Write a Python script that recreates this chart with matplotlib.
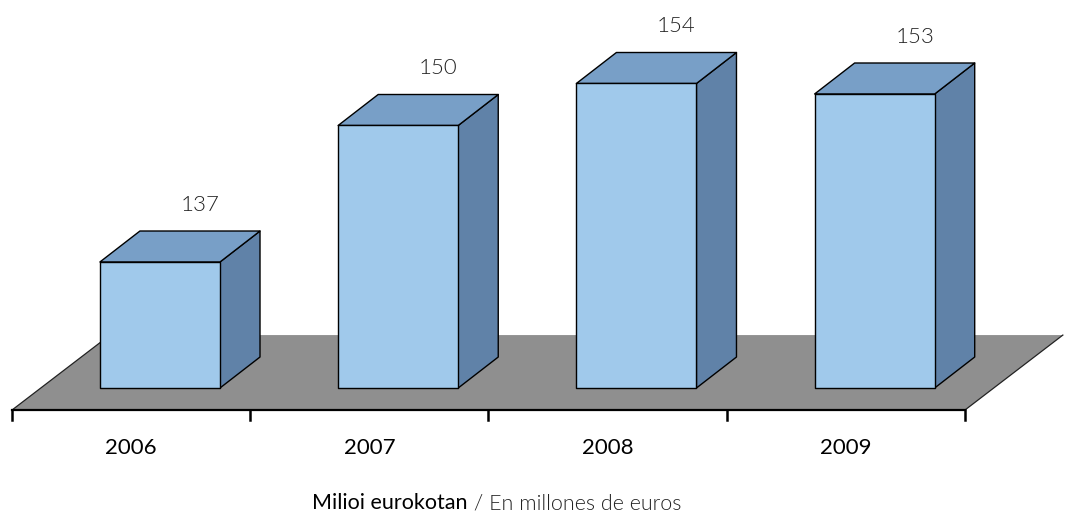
import numpy as np
import matplotlib
matplotlib.use("Agg")
import matplotlib.pyplot as plt
from matplotlib.patches import Polygon

# Datuak / datos
years = ["2006", "2007", "2008", "2009"]
values = [137, 150, 154, 153]
caption_eu = "Milioi eurokotan"
caption_es = " / En millones de euros"

# Koloreak
c_front = "#A0C9EB"
c_top = "#789FC7"
c_side = "#6082A8"
c_floor = "#8F8F8F"

base = 125.0          # bar base value
floor_front = 122.9   # floor front edge (value units)
floor_dx, floor_dy = 0.411, 7.14
bar_off, bar_w = 0.369, 0.504
dep_x, dep_y = 0.168, 2.95

fig = plt.figure(figsize=(10.65, 5.14), dpi=100)
ax = fig.add_axes([0, 0, 1, 1])
ax.set_xlim(-0.0504, 4.42)
ax.set_ylim(113.0, 161.95)
ax.axis("off")

n = len(years)

# floor
fl = [(0, floor_front), (n, floor_front),
      (n + floor_dx, floor_front + floor_dy), (floor_dx, floor_front + floor_dy)]
ax.add_patch(Polygon(fl, closed=True, facecolor=c_floor, edgecolor="none", zorder=1))
ax.plot([0, floor_dx], [floor_front, floor_front + floor_dy], color="#222222", lw=0.9, zorder=2)
ax.plot([n, n + floor_dx], [floor_front, floor_front + floor_dy], color="#222222", lw=0.9, zorder=2)

# axis line + ticks
ax.plot([0, n], [floor_front, floor_front], color="black", lw=1.6, zorder=3)
for i in range(n + 1):
    ax.plot([i, i], [floor_front, floor_front - 0.95], color="black", lw=1.8, zorder=3)

# bars
for i, v in enumerate(values):
    x0 = i + bar_off
    x1 = x0 + bar_w
    front = [(x0, base), (x1, base), (x1, v), (x0, v)]
    top = [(x0, v), (x1, v), (x1 + dep_x, v + dep_y), (x0 + dep_x, v + dep_y)]
    side = [(x1, base), (x1 + dep_x, base + dep_y), (x1 + dep_x, v + dep_y), (x1, v)]
    for pts, col in [(side, c_side), (top, c_top), (front, c_front)]:
        ax.add_patch(Polygon(pts, closed=True, facecolor=col, edgecolor="black",
                             lw=1.0, joinstyle="round", zorder=4))
    ax.text(x0 + bar_w / 2 + dep_x, v + dep_y + 2.5, str(v), ha="center", va="center",
            fontsize=16, family="Lato", fontweight=300, color="#222222", zorder=5)
    ax.text(i + 0.5, 119.3, years[i], ha="center", va="center",
            fontsize=16, family="Lato", color="black", zorder=5)

t1 = fig.text(0.293, 1 - 503 / 514, caption_eu, ha="left", va="center",
              fontsize=15.5, family="Lato", color="black")
ax.annotate(caption_es, xy=(1, 0.5), xycoords=t1, ha="left", va="center",
            fontsize=15.5, family="Lato", fontweight=300, color="#222222")

fig.savefig("out.png", dpi=100)
